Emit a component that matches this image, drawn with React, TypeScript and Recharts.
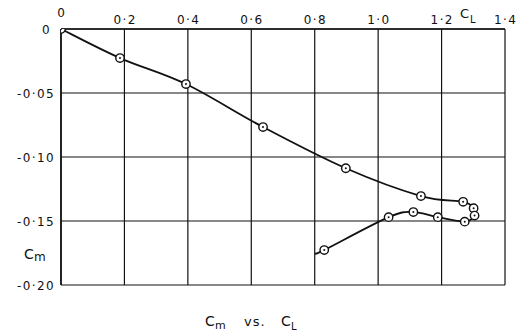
import React from 'react';
import { ComposedChart, Line, XAxis, YAxis, CartesianGrid, Customized } from 'recharts';

// C_L values along the traced curve (in drawing order)
const CL_VALUES = [0, 0.186, 0.394, 0.637, 0.898, 1.135, 1.268, 1.301, 1.304, 1.273, 1.188, 1.111, 1.033, 0.83, 0.801];
// C_m values along the traced curve
const CM_VALUES = [0, -0.0227, -0.043, -0.0766, -0.1088, -0.1305, -0.135, -0.14, -0.1458, -0.1505, -0.147, -0.143, -0.147, -0.1727, -0.1755];
// which points carry a circle marker (the last point is just the curve end)
const MARKED = [true, true, true, true, true, true, true, true, true, true, true, true, true, true, false];

const X_TICKS = [0, 0.2, 0.4, 0.6, 0.8, 1.0, 1.2, 1.4];
const X_TICK_LABELS = ['0', '0·2', '0·4', '0·6', '0·8', '1·0', '1·2', '1·4'];
const Y_TICKS = [0, -0.05, -0.1, -0.15, -0.2];
const Y_TICK_LABELS = ['0', '-0·05', '-0·10', '-0·15', '-0·20'];

const data = CL_VALUES.map((cl, i) => ({ cl, cm: CM_VALUES[i], marked: MARKED[i] }));

const FONT = '"DejaVu Sans", sans-serif';
const INK = '#111';

function catmullRom(context: any) {
  let pts: number[][] = [];
  return {
    areaStart() {},
    areaEnd() {},
    lineStart() {
      pts = [];
    },
    point(x: number, y: number) {
      pts.push([+x, +y]);
    },
    lineEnd() {
      const n = pts.length;
      if (!n) return;
      context.moveTo(pts[0][0], pts[0][1]);
      const t = 1 / 6;
      for (let i = 0; i < n - 1; i++) {
        const p0 = pts[i - 1] || pts[i];
        const p1 = pts[i];
        const p2 = pts[i + 1];
        const p3 = pts[i + 2] || p2;
        context.bezierCurveTo(
          p1[0] + (p2[0] - p0[0]) * t,
          p1[1] + (p2[1] - p0[1]) * t,
          p2[0] - (p3[0] - p1[0]) * t,
          p2[1] - (p3[1] - p1[1]) * t,
          p2[0],
          p2[1]
        );
      }
    },
  };
}

const XTick = (props: any) => {
  const { x, payload } = props;
  const i = X_TICKS.indexOf(payload.value);
  const label = i >= 0 ? X_TICK_LABELS[i] : String(payload.value);
  const baseline = payload.value === 0 ? 17 : 24;
  return (
    <text x={x + 0.7} y={baseline} textAnchor="middle" fontFamily={FONT} fontSize={12} letterSpacing={1.4} fill={INK}>
      {label}
    </text>
  );
};

const YTick = (props: any) => {
  const { y, payload } = props;
  const i = Y_TICKS.findIndex((v) => Math.abs(v - payload.value) < 1e-9);
  const label = i >= 0 ? Y_TICK_LABELS[i] : String(payload.value);
  const right = payload.value === 0 ? 51 : 55;
  return (
    <text x={right} y={y + 4.5} textAnchor="end" fontFamily={FONT} fontSize={12} letterSpacing={1.4} fill={INK}>
      {label}
    </text>
  );
};

const renderDot = (props: any) => {
  const { cx, cy, payload, index } = props;
  if (!payload.marked) return <g key={`d${index}`} />;
  return (
    <g key={`d${index}`}>
      <circle cx={cx} cy={cy} r={4.2} fill="#fff" stroke={INK} strokeWidth={1.4} />
      <circle cx={cx} cy={cy} r={1} fill={INK} />
    </g>
  );
};

const Labels = () => (
  <g fontFamily={FONT} fill={INK}>
    <text x={460} y={18} fontSize={13}>C</text>
    <text x={470} y={23} fontSize={10}>L</text>
    <text x={24} y={259} fontSize={14}>C</text>
    <text x={34} y={261} fontSize={12}>m</text>
    <text x={205} y={326} fontSize={14}>C</text>
    <text x={215} y={329} fontSize={11}>m</text>
    <text x={244} y={326} fontSize={13} letterSpacing={1}>vs.</text>
    <text x={281} y={326} fontSize={14}>C</text>
    <text x={291} y={330} fontSize={10}>L</text>
  </g>
);

export default function App() {
  return (
    <div style={{ position: 'absolute', left: 0, top: 0, width: 524, height: 333, background: '#fff' }}>
      <ComposedChart width={524} height={333} data={data} margin={{ top: 0, right: 19, bottom: 48, left: 0 }}>
        <CartesianGrid stroke={INK} strokeWidth={1.2} horizontal vertical />
        <XAxis
          dataKey="cl"
          type="number"
          orientation="top"
          domain={[0, 1.4]}
          ticks={X_TICKS}
          interval={0}
          height={29}
          axisLine={{ stroke: INK, strokeWidth: 1.6 }}
          tickLine={false}
          tick={<XTick />}
          allowDataOverflow
        />
        <YAxis
          dataKey="cm"
          type="number"
          domain={[-0.2, 0]}
          ticks={Y_TICKS}
          interval={0}
          width={61}
          axisLine={{ stroke: INK, strokeWidth: 1.6 }}
          tickLine={false}
          tick={<YTick />}
          allowDataOverflow
        />
        <Line
          dataKey="cm"
          type={catmullRom as any}
          stroke={INK}
          strokeWidth={1.8}
          dot={renderDot}
          activeDot={false}
          isAnimationActive={false}
        />
        <Customized component={Labels} />
      </ComposedChart>
    </div>
  );
}
